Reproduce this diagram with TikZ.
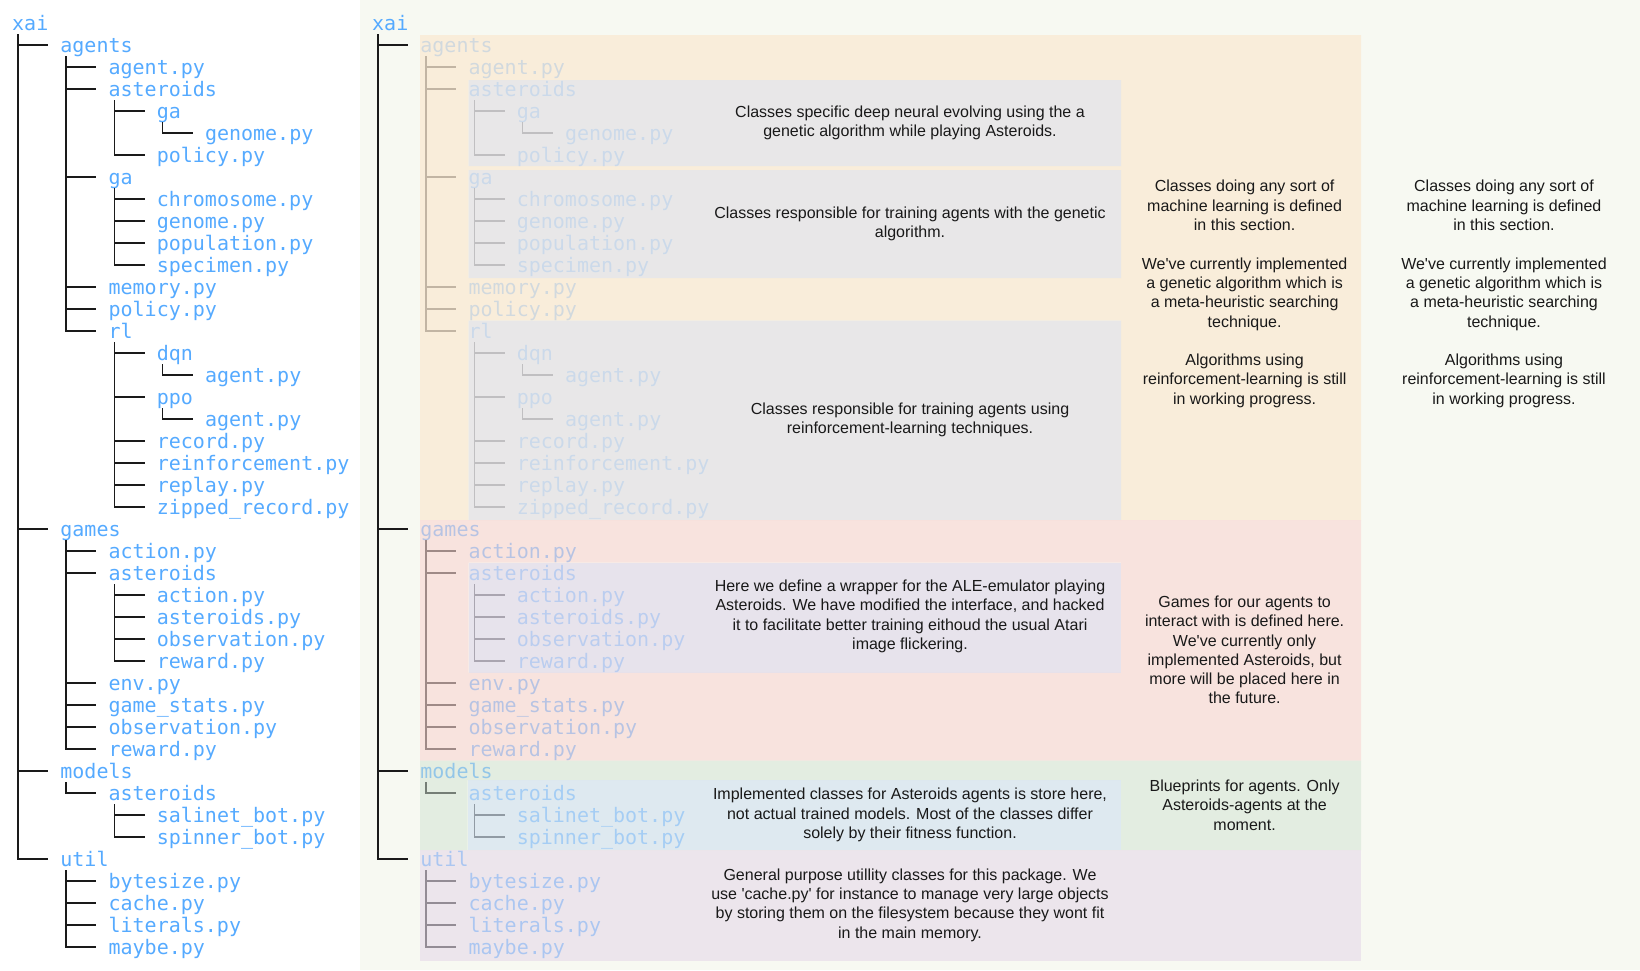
\documentclass[tikz,border=0pt]{standalone}
\usepackage{fontspec}
\newfontfamily\treefont{DejaVu Sans Mono}
\newfontfamily\descfont[Ligatures=TeXOff]{Liberation Sans}
\definecolor{treeblue}{HTML}{55AAFF}
\definecolor{treeline}{HTML}{1A1A1A}
\definecolor{panelbg}{HTML}{F7F9F2}
\definecolor{agentsbg}{HTML}{FBE9D3}
\definecolor{agentsin}{HTML}{E5E4E6}
\definecolor{gamesbg}{HTML}{F9D5D1}
\definecolor{gamesin}{HTML}{E2DBEA}
\definecolor{modelsbg}{HTML}{D1E2D2}
\definecolor{modelsin}{HTML}{D1E1EF}
\definecolor{utilbg}{HTML}{E5D9E8}

\begin{document}
\begin{tikzpicture}
    [x=1pt,y=-1pt,
     item/.style={anchor=base west, inner sep=0pt, text=treeblue, font={\treefont\fontsize{20}{22}\selectfont}},
     branch/.style={draw=treeline, line width=1.7pt},
     note/.style={align=center, inner sep=0pt, text=black!90, font={\descfont\fontsize{16}{19.3}\selectfont}}]
  \useasboundingbox (0,0) rectangle (1640,970);
  \fill[white] (0,0) rectangle (360,970);
  \fill[panelbg] (360,0) rectangle (1640,970);

  \foreach \p/\ox in {L/0, R/360} {
    \foreach \lvl/\txt [count=\r from 0] in {0/xai, 1/agents, 2/agent.py, 2/asteroids, 3/ga, 4/genome.py, 3/policy.py,
        2/ga, 3/chromosome.py, 3/genome.py, 3/population.py, 3/specimen.py, 2/memory.py, 2/policy.py,
        2/rl, 3/dqn, 4/agent.py, 3/ppo, 4/agent.py, 3/record.py, 3/reinforcement.py, 3/replay.py, 3/zipped\_record.py,
        1/games, 2/action.py, 2/asteroids, 3/action.py, 3/asteroids.py, 3/observation.py, 3/reward.py,
        2/env.py, 2/game\_stats.py, 2/observation.py, 2/reward.py,
        1/models, 2/asteroids, 3/salinet\_bot.py, 3/spinner\_bot.py,
        1/util, 2/bytesize.py, 2/cache.py, 2/literals.py, 2/maybe.py}
      \node[item] (\p\r) at (\ox+12+48.2*\lvl, 30+22*\r) {\txt};

    \foreach \from/\to in {0/1, 1/2, 1/3, 3/4, 4/5, 3/6, 1/7, 7/8, 7/9, 7/10, 7/11, 1/12, 1/13,
        1/14, 14/15, 15/16, 14/17, 17/18, 14/19, 14/20, 14/21, 14/22,
        0/23, 23/24, 23/25, 25/26, 25/27, 25/28, 25/29, 23/30, 23/31, 23/32, 23/33,
        0/34, 34/35, 35/36, 35/37, 0/38, 38/39, 38/40, 38/41, 38/42}
      \draw[branch] ([xshift=6pt,yshift=-4pt]\p\from.base west) |- ([xshift=-12pt,yshift=7pt]\p\to.base west);
  }

  \fill[agentsbg, fill opacity=.75, even odd rule] (420,35) rectangle (1361,520)
    (468.5,80) rectangle (1121,166) (468.5,170) rectangle (1121,278) (468.5,320.5) rectangle (1121,520);
  \fill[agentsin, fill opacity=.82] (468.5,80) rectangle (1121,166) (468.5,170) rectangle (1121,278)
    (468.5,320.5) rectangle (1121,520);
  \fill[gamesbg, fill opacity=.6, even odd rule] (420,520) rectangle (1361,760.5) (468.5,562.5) rectangle (1121,672.5);
  \fill[gamesin, fill opacity=.72] (468.5,562.5) rectangle (1121,672.5);
  \fill[modelsbg, fill opacity=.5, even odd rule] (420,760.5) rectangle (1361,850) (467.5,780) rectangle (1121,850);
  \fill[modelsin, fill opacity=.65] (467.5,780) rectangle (1121,850);
  \fill[utilbg, fill opacity=.6] (420,850) rectangle (1361,960.7);

  \node[note] (n1) at (910,123) {Classes specific deep neural evolving using the a\\genetic algorithm while playing Asteroids.};
  \node[note] (n2) at (910,224) {Classes responsible for training agents with the genetic\\algorithm.};
  \node[note] (n3) at (910,420) {Classes responsible for training agents using\\reinforcement-learning techniques.};
  \node[note] (n4) at (1244.6,294) {Classes doing any sort of\\machine learning is defined\\in this section.\\[19.3pt]We've currently implemented\\a genetic algorithm which is\\a meta-heuristic searching\\technique.\\[19.3pt]Algorithms using\\reinforcement-learning is still\\in working progress.};
  \node[note] (n5) at (1504,294) {Classes doing any sort of\\machine learning is defined\\in this section.\\[19.3pt]We've currently implemented\\a genetic algorithm which is\\a meta-heuristic searching\\technique.\\[19.3pt]Algorithms using\\reinforcement-learning is still\\in working progress.};
  \node[note] (n6) at (910,616.5) {Here we define a wrapper for the ALE-emulator playing\\Asteroids. We have modified the interface, and hacked\\it to facilitate better training eithoud the usual Atari\\image flickering.};
  \node[note] (n7) at (1244.6,650) {Games for our agents to\\interact with is defined here.\\We've currently only\\implemented Asteroids, but\\more will be placed here in\\the future.};
  \node[note] (n8) at (910,815) {Implemented classes for Asteroids agents is store here,\\not actual trained models. Most of the classes differ\\solely by their fitness function.};
  \node[note] (n9) at (1244.6,805) {Blueprints for agents. Only\\Asteroids-agents at the\\moment.};
  \node[note] (n10) at (910,905) {General purpose utillity classes for this package. We\\use 'cache.py' for instance to manage very large objects\\by storing them on the filesystem because they wont fit\\in the main memory.};
\end{tikzpicture}
\end{document}
